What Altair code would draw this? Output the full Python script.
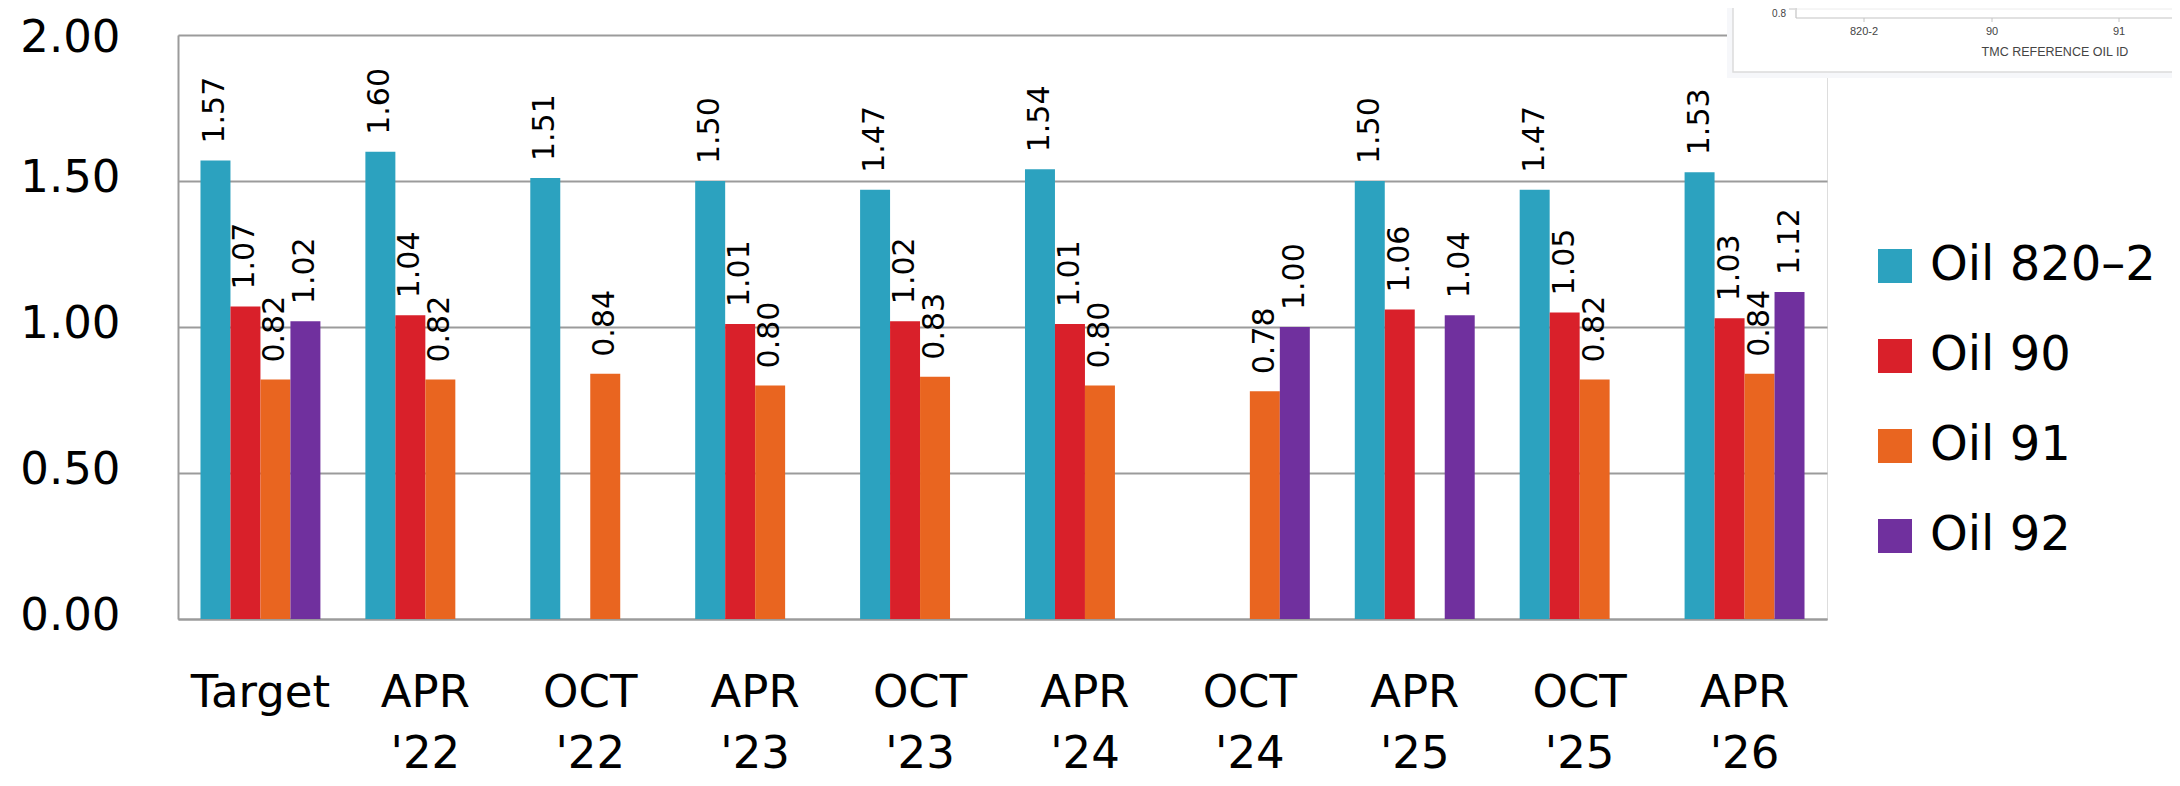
import altair as alt
import pandas as pd

periods = ["Target", "APR '22", "OCT '22", "APR '23", "OCT '23",
           "APR '24", "OCT '24", "APR '25", "OCT '25", "APR '26"]
series = ["Oil 820\u20132", "Oil 90", "Oil 91", "Oil 92"]
oil_820_2 = [1.57, 1.60, 1.51, 1.50, 1.47, 1.54, None, 1.50, 1.47, 1.53]
oil_90 = [1.07, 1.04, None, 1.01, 1.02, 1.01, None, 1.06, 1.05, 1.03]
oil_91 = [0.82, 0.82, 0.84, 0.80, 0.83, 0.80, 0.78, None, 0.82, 0.84]
oil_92 = [1.02, None, None, None, None, None, 1.00, 1.04, None, 1.12]
colors = ["#2CA2BF", "#D9202A", "#E96520", "#70309E"]
y_ticks = [0, 0.5, 1.0, 1.5, 2.0]

inset_labels = ["820-2", "90", "91"]
inset_title = "TMC REFERENCE OIL ID"
inset_ytick = "0.8"

rows = []
for name, vals in zip(series, [oil_820_2, oil_90, oil_91, oil_92]):
    for p, v in zip(periods, vals):
        if v is not None:
            rows.append({"period": p, "series": name, "value": v})
df = pd.DataFrame(rows)

FONT = "DejaVu Sans"

x_enc = alt.X("period:N", sort=periods,
              scale=alt.Scale(paddingInner=0, paddingOuter=0),
              axis=alt.Axis(title=None, labelAngle=0, ticks=False, tickSize=0,
                            labelFont=FONT, labelFontSize=45, labelColor="#000",
                            labelPadding=51, labelLineHeight=61,
                            labelBaseline="top",
                            labelExpr="split(datum.label, ' ')",
                            domainColor="#9b9b9b", domainWidth=2, grid=False))
xo_enc = alt.XOffset("series:N", sort=series,
                     scale=alt.Scale(domain=series, paddingInner=0, paddingOuter=0.75))
y_enc = alt.Y("value:Q",
              scale=alt.Scale(domain=[0, 2], nice=False, zero=True),
              axis=alt.Axis(title=None, values=y_ticks, format=".2f",
                            ticks=False, tickSize=0, labelPadding=58,
                            labelFont=FONT, labelFontSize=45, labelColor="#000",
                            labelOffset={"condition": {"test": "datum.value >= 2", "value": 2},
                                         "value": -4},
                            grid=True, gridColor="#9b9b9b", gridWidth=2,
                            domainColor="#9b9b9b", domainWidth=2))

base = alt.Chart(df)

bars = base.mark_bar().encode(
    x=x_enc,
    xOffset=xo_enc,
    y=y_enc,
    color=alt.Color("series:N", sort=series,
                    scale=alt.Scale(domain=series, range=colors),
                    legend=alt.Legend(title=None, orient="none",
                                      legendX=1693, legendY=207,
                                      symbolType="square", symbolSize=1156,
                                      symbolStrokeWidth=0, symbolOpacity=1,
                                      labelFont=FONT, labelFontSize=48,
                                      labelColor="#000", labelOffset=11,
                                      labelLimit=600, rowPadding=42,
                                      padding=0)),
)

labels = base.mark_text(angle=270, align="left", baseline="middle", dx=17,
                        font=FONT, fontSize=30, color="#000").encode(
    x=alt.X("period:N", sort=periods),
    xOffset=alt.XOffset("series:N", sort=series),
    y=alt.Y("value:Q"),
    text=alt.Text("value:Q", format=".2f"),
)

one = alt.Data(values=[{"k": 0}])

inset_bg = alt.Chart(one).mark_rect(color="#f6f7fa").encode(
    x=alt.value(1549), x2=alt.value(2010), y=alt.value(-40), y2=alt.value(43))
inset_panel = alt.Chart(one).mark_rect(fill="white", stroke="#dcdcdc", strokeWidth=1.5).encode(
    x=alt.value(1555), x2=alt.value(2020), y=alt.value(-45), y2=alt.value(37))
inset_grid = alt.Chart(one).mark_rule(color="#ececec", strokeWidth=1).encode(
    x=alt.value(1618), x2=alt.value(2010), y=alt.value(-26))
inset_yaxis = alt.Chart(one).mark_rule(color="#c4c4c4", strokeWidth=1.2).encode(
    x=alt.value(1618), y=alt.value(-40), y2=alt.value(-17))
inset_xaxis = alt.Chart(one).mark_rule(color="#c4c4c4", strokeWidth=1.2).encode(
    x=alt.value(1618), x2=alt.value(2010), y=alt.value(-17))
inset_ytick_rule = alt.Chart(one).mark_rule(color="#c4c4c4", strokeWidth=1).encode(
    x=alt.value(1611), x2=alt.value(1617), y=alt.value(-26))
inset_ylabel = alt.Chart(one).mark_text(align="right", baseline="middle",
                                        font="Liberation Sans", fontSize=10,
                                        color="#444").encode(
    x=alt.value(1608), y=alt.value(-21), text=alt.value(inset_ytick))

inset_layers = [inset_bg, inset_panel, inset_grid, inset_yaxis, inset_xaxis,
                inset_ytick_rule, inset_ylabel]
for lab, xp in zip(inset_labels, [1686, 1814, 1941]):
    inset_layers.append(alt.Chart(one).mark_rule(color="#c4c4c4", strokeWidth=1).encode(
        x=alt.value(xp), y=alt.value(-17), y2=alt.value(-13)))
    inset_layers.append(alt.Chart(one).mark_text(align="center", baseline="middle",
                                                 font="Liberation Sans", fontSize=11,
                                                 color="#444").encode(
        x=alt.value(xp), y=alt.value(-3), text=alt.value(lab)))
inset_layers.append(alt.Chart(one).mark_text(align="center", baseline="middle",
                                             font="Liberation Sans", fontSize=12.5,
                                             color="#444").encode(
    x=alt.value(1877), y=alt.value(17), text=alt.value(inset_title)))

chart = alt.layer(bars, labels, *inset_layers).properties(
    width=1649, height=584,
    autosize=alt.AutoSizeParams(type="none"),
    padding={"left": 170, "top": 27, "right": 345, "bottom": 159},
).configure_view(stroke=None).configure(background="white")

chart.save("out.html", embed_options={"renderer": "svg", "actions": False})
